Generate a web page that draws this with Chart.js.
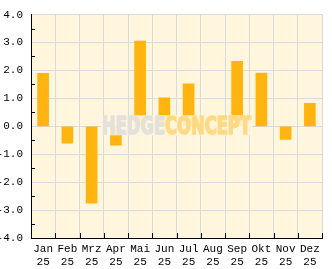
<!DOCTYPE html>
<html>
<head>
<meta charset="utf-8">
<script src="https://cdn.jsdelivr.net/npm/chart.js@4"></script>
<style>
  html, body { margin: 0; padding: 0; background: #fff; }
</style>
</head>
<body>
<canvas id="perfChart" width="332" height="269"></canvas>
<script>
// monthly returns in %
const months = ["Jan", "Feb", "Mrz", "Apr", "Mai", "Jun", "Jul", "Aug", "Sep", "Okt", "Nov", "Dez"]
const year = "25"
const returns = [1.9, -0.6, -2.75, -0.68, 3.05, 1.02, 1.52, 0, 2.33, 1.91, -0.47, 0.82]
const yMin = -4
const yMax = 4

const monoFont = { family: "'Liberation Mono', 'DejaVu Sans Mono', monospace", size: 11 }

// cream plot background
const plotBg = {
  id: "plotBg",
  beforeDraw(chart) {
    const { ctx, chartArea: a } = chart
    ctx.save()
    ctx.fillStyle = "#FFF6DD"
    ctx.fillRect(a.left, a.top, a.right - a.left, a.bottom - a.top)
    ctx.restore()
  },
}

// short inward tick marks (half steps on y, category borders on x)
const innerTicks = {
  id: "innerTicks",
  afterDraw(chart) {
    const { ctx, chartArea: a } = chart
    const x = chart.scales.x
    const y = chart.scales.y
    ctx.save()
    ctx.strokeStyle = "#000"
    ctx.lineWidth = 1
    ctx.beginPath()
    for (let v = yMin + 0.5; v < yMax; v += 1) {
      const py = Math.round(y.getPixelForValue(v)) + 0.5
      ctx.moveTo(a.left, py)
      ctx.lineTo(a.left + 4, py)
    }
    for (let i = 0; i <= months.length; i++) {
      const px = Math.round(x.getPixelForValue(i - 0.5)) + 0.5
      ctx.moveTo(px, a.bottom)
      ctx.lineTo(px, a.bottom - 5)
    }
    ctx.stroke()
    ctx.restore()
  },
}

// "HEDGE CONCEPT" watermark over the bars
const watermark = {
  id: "watermark",
  afterDatasetsDraw(chart) {
    const { ctx, chartArea: a } = chart
    const cx = (a.left + a.right) / 2
    const cy = (a.top + a.bottom) / 2 - 1
    const w = 151
    const h = 20
    ctx.save()
    ctx.fillStyle = "rgba(255, 246, 221, 0.88)"
    ctx.fillRect(cx - w / 2, cy - h / 2, w, h)

    ctx.font = "bold 25px 'Liberation Sans Narrow', 'DejaVu Sans Condensed', sans-serif"
    ctx.textBaseline = "alphabetic"
    ctx.lineJoin = "miter"
    ctx.lineWidth = 1.6
    const w1 = ctx.measureText("HEDGE").width
    const w2 = ctx.measureText("CONCEPT").width
    const sx = (w - 2) / (w1 + w2)
    ctx.translate(cx - w / 2 + 1, cy + 9)
    ctx.scale(sx, 1)
    ctx.fillStyle = ctx.strokeStyle = "#E3E1DA"
    ctx.fillText("HEDGE", 0, 0)
    ctx.strokeText("HEDGE", 0, 0)
    ctx.fillStyle = ctx.strokeStyle = "#FFD983"
    ctx.fillText("CONCEPT", w1, 0)
    ctx.strokeText("CONCEPT", w1, 0)
    ctx.restore()
  },
}

new Chart(document.getElementById("perfChart"), {
  type: "bar",
  data: {
    labels: months.map((m) => [m, year]),
    datasets: [
      {
        data: returns,
        backgroundColor: "#FFB40F",
        borderWidth: 0,
        barThickness: 11,
      },
    ],
  },
  options: {
    responsive: false,
    animation: false,
    devicePixelRatio: 1,
    layout: { padding: { top: 11, right: 10, left: 0, bottom: 0 } },
    plugins: {
      legend: { display: false },
      tooltip: { enabled: false },
    },
    scales: {
      x: {
        afterFit: (s) => { s.height = 31 },
        grid: { offset: true, color: "#DADADA", drawTicks: false },
        border: { color: "#000", width: 1 },
        ticks: { color: "#000", font: monoFont, padding: 4, maxRotation: 0 },
      },
      y: {
        min: yMin,
        max: yMax,
        afterFit: (s) => { s.width = 31 },
        grid: { color: "#DADADA", drawTicks: false },
        border: { color: "#000", width: 1 },
        ticks: {
          stepSize: 1,
          color: "#000",
          font: monoFont,
          padding: 8,
          callback: (v) => v.toFixed(1),
        },
      },
    },
  },
  plugins: [plotBg, innerTicks, watermark],
})
</script>
</body>
</html>
